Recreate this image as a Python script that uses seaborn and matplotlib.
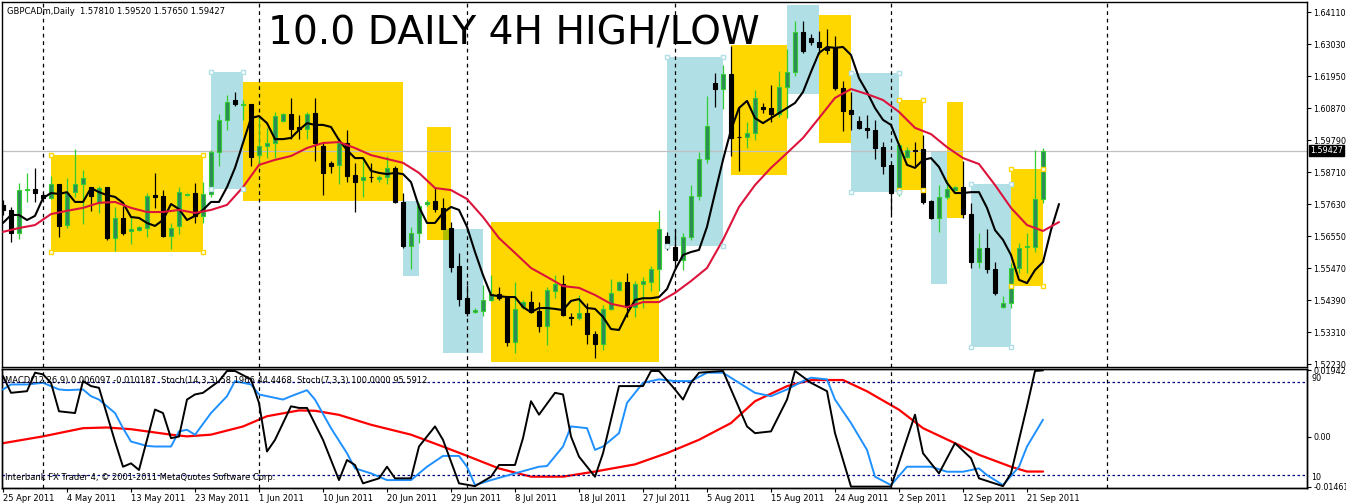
import numpy as np
import pandas as pd
import seaborn as sns
import matplotlib.pyplot as plt
import matplotlib.transforms as mtransforms
from matplotlib.patches import Rectangle

sns.set_style("white")
plt.rcParams['font.family'] = ['DejaVu Sans']

# ---------------- data ----------------
header = "GBPCADm,Daily  1.57810 1.59520 1.57650 1.59427"
title = "10.0 DAILY 4H HIGH/LOW"
indicator_label = ("MACD(12,26,9) 0.006097 -0.010187  Stoch(14,3,3) 58.1966 44.4468  "
                   "Stoch(7,3,3) 100.0000 95.5912")
copyright_label = "Interbank FX Trader 4, \u00a9 2001-2011 MetaQuotes Software Corp."

opens = [1.5760, 1.5743, 1.5665, 1.5810, 1.5813, 1.5793, 1.5783, 1.5830, 1.5692, 1.5803,
         1.5830, 1.5820, 1.5767, 1.5820, 1.5648, 1.5716, 1.5672, 1.5675, 1.5682, 1.5793,
         1.5790, 1.5655, 1.5689, 1.5793, 1.5800, 1.5723, 1.5797, 1.5938, 1.6047, 1.6114,
         1.6097, 1.6100, 1.5928, 1.5959, 1.5969, 1.6043, 1.6067, 1.6023, 1.6016, 1.6070,
         1.5959, 1.5902, 1.5895, 1.5969, 1.5861, 1.5844, 1.5854, 1.5848, 1.5854, 1.5885,
         1.5770, 1.5622, 1.5665, 1.5763, 1.5773, 1.5750, 1.5682, 1.5554, 1.5445, 1.5398,
         1.5402, 1.5439, 1.5459, 1.5452, 1.5297, 1.5415, 1.5432, 1.5402, 1.5351, 1.5470,
         1.5493, 1.5381, 1.5378, 1.5395, 1.5324, 1.5290, 1.5409, 1.5473, 1.5500, 1.5415,
         1.5493, 1.5500, 1.5544, 1.5655, 1.5618, 1.5574, 1.5651, 1.5790, 1.5915, 1.6171,
         1.6151, 1.6202, 1.5989, 1.5989, 1.6003, 1.6090, 1.6087, 1.6067, 1.6158, 1.6209,
         1.6344, 1.6323, 1.6310, 1.6290, 1.6290, 1.6155, 1.6080, 1.6043, 1.6020, 1.6013,
         1.5955, 1.5895, 1.5800, 1.5922, 1.5945, 1.5948, 1.5773, 1.5716, 1.5787, 1.5810,
         1.5820, 1.5729, 1.5567, 1.5615, 1.5544, 1.5415, 1.5429, 1.5547, 1.5618, 1.5618,
         1.5781]
highs = [1.5777, 1.5753, 1.5834, 1.5868, 1.5885, 1.5800, 1.5858, 1.5832, 1.5851, 1.5948,
         1.5878, 1.5822, 1.5824, 1.5822, 1.5753, 1.5757, 1.5723, 1.5689, 1.5800, 1.5868,
         1.5810, 1.5699, 1.5820, 1.5800, 1.5834, 1.5837, 1.5945, 1.6067, 1.6131, 1.6141,
         1.6114, 1.6102, 1.6057, 1.6020, 1.6074, 1.6070, 1.6121, 1.6063, 1.6074, 1.6121,
         1.5969, 1.5908, 1.5986, 1.6013, 1.5902, 1.5912, 1.5902, 1.5861, 1.5925, 1.5892,
         1.5800, 1.5686, 1.5767, 1.5777, 1.5817, 1.5783, 1.5702, 1.5598, 1.5490, 1.5412,
         1.5490, 1.5523, 1.5483, 1.5454, 1.5500, 1.5439, 1.5470, 1.5432, 1.5483, 1.5523,
         1.5523, 1.5395, 1.5456, 1.5429, 1.5334, 1.5422, 1.5510, 1.5503, 1.5530, 1.5503,
         1.5517, 1.5554, 1.5743, 1.5668, 1.5679, 1.5665, 1.5827, 1.5938, 1.6128, 1.6205,
         1.6232, 1.6296, 1.6090, 1.6040, 1.6148, 1.6104, 1.6165, 1.6212, 1.6286, 1.6381,
         1.6381, 1.6337, 1.6347, 1.6354, 1.6330, 1.6178, 1.6141, 1.6060, 1.6063, 1.6047,
         1.5972, 1.5895, 1.5969, 1.5955, 1.5972, 1.5996, 1.5777, 1.5827, 1.5844, 1.5824,
         1.5908, 1.5767, 1.5665, 1.5679, 1.5567, 1.5452, 1.5564, 1.5632, 1.5665, 1.5945,
         1.5952]
lows = [1.5726, 1.5635, 1.5645, 1.5770, 1.5770, 1.5780, 1.5780, 1.5651, 1.5682, 1.5787,
        1.5696, 1.5740, 1.5733, 1.5642, 1.5605, 1.5658, 1.5628, 1.5672, 1.5651, 1.5750,
        1.5653, 1.5611, 1.5662, 1.5790, 1.5699, 1.5699, 1.5787, 1.5892, 1.6013, 1.6094,
        1.6047, 1.5892, 1.5892, 1.5918, 1.5918, 1.6040, 1.5982, 1.5982, 1.5982, 1.5908,
        1.5793, 1.5868, 1.5830, 1.5837, 1.5736, 1.5787, 1.5837, 1.5837, 1.5830, 1.5768,
        1.5615, 1.5544, 1.5632, 1.5757, 1.5736, 1.5677, 1.5533, 1.5419, 1.5385, 1.5395,
        1.5385, 1.5436, 1.5439, 1.5284, 1.5260, 1.5409, 1.5395, 1.5331, 1.5287, 1.5445,
        1.5386, 1.5355, 1.5372, 1.5290, 1.5243, 1.5270, 1.5405, 1.5470, 1.5382, 1.5382,
        1.5412, 1.5470, 1.5470, 1.5608, 1.5550, 1.5540, 1.5642, 1.5777, 1.5902, 1.6090,
        1.6084, 1.5925, 1.5875, 1.5952, 1.5979, 1.6070, 1.6040, 1.6057, 1.6053, 1.6195,
        1.6273, 1.6300, 1.6269, 1.6269, 1.6148, 1.6010, 1.6013, 1.6016, 1.5986, 1.5915,
        1.5864, 1.5729, 1.5790, 1.5918, 1.5892, 1.5763, 1.5713, 1.5668, 1.5780, 1.5807,
        1.5716, 1.5547, 1.5547, 1.5530, 1.5456, 1.5412, 1.5412, 1.5530, 1.5530, 1.5601,
        1.5765]
closes = [1.5743, 1.5665, 1.5810, 1.5813, 1.5800, 1.5783, 1.5830, 1.5689, 1.5800, 1.5830,
          1.5851, 1.5790, 1.5817, 1.5648, 1.5716, 1.5665, 1.5679, 1.5686, 1.5790, 1.5787,
          1.5655, 1.5682, 1.5803, 1.5797, 1.5723, 1.5797, 1.5938, 1.6047, 1.6107, 1.6100,
          1.6100, 1.5922, 1.5959, 1.5969, 1.6060, 1.6067, 1.6016, 1.6016, 1.6067, 1.5969,
          1.5868, 1.5892, 1.5969, 1.5858, 1.5837, 1.5854, 1.5853, 1.5854, 1.5885, 1.5770,
          1.5622, 1.5665, 1.5757, 1.5770, 1.5746, 1.5679, 1.5550, 1.5442, 1.5395, 1.5405,
          1.5439, 1.5459, 1.5445, 1.5297, 1.5409, 1.5432, 1.5398, 1.5351, 1.5473, 1.5493,
          1.5388, 1.5378, 1.5395, 1.5324, 1.5290, 1.5409, 1.5463, 1.5500, 1.5415, 1.5493,
          1.5503, 1.5544, 1.5679, 1.5615, 1.5574, 1.5651, 1.5790, 1.5915, 1.6026, 1.6151,
          1.6202, 1.5986, 1.5988, 1.6003, 1.6121, 1.6084, 1.6067, 1.6158, 1.6209, 1.6344,
          1.6279, 1.6310, 1.6293, 1.6283, 1.6155, 1.6077, 1.6067, 1.6020, 1.6013, 1.5952,
          1.5892, 1.5800, 1.5962, 1.5945, 1.5942, 1.5770, 1.5716, 1.5787, 1.5813, 1.5820,
          1.5729, 1.5567, 1.5615, 1.5544, 1.5463, 1.5429, 1.5547, 1.5615, 1.5619, 1.5781,
          1.5943]

# fast moving average (black) and slow moving average (red), as drawn (shifted right)
black_ma = [1.5699, 1.5726, 1.5726, 1.5709, 1.5723, 1.5783, 1.5800, 1.5797, 1.5803, 1.5770,
            1.5770, 1.5817, 1.5803, 1.5793, 1.5787, 1.5767, 1.5719, 1.5716, 1.5699, 1.5689,
            1.5709, 1.5763, 1.5746, 1.5709, 1.5723, 1.5743, 1.5770, 1.5770, 1.5820, 1.5885,
            1.5969, 1.6053, 1.6060, 1.6036, 1.5982, 1.5982, 1.5986, 1.6013, 1.6036, 1.6030,
            1.6030, 1.6023, 1.5979, 1.5945, 1.5918, 1.5918, 1.5875, 1.5868, 1.5864, 1.5868,
            1.5864, 1.5837, 1.5753, 1.5699, 1.5699, 1.5733, 1.5753, 1.5743, 1.5686, 1.5601,
            1.5523, 1.5456, 1.5452, 1.5449, 1.5449, 1.5415, 1.5398, 1.5412, 1.5412, 1.5409,
            1.5405, 1.5436, 1.5442, 1.5412, 1.5409, 1.5382, 1.5341, 1.5338, 1.5392, 1.5439,
            1.5445, 1.5445, 1.5449, 1.5476, 1.5540, 1.5591, 1.5601, 1.5608, 1.5686, 1.5800,
            1.5912, 1.6013, 1.6087, 1.6111, 1.6053, 1.6036, 1.6053, 1.6070, 1.6087, 1.6104,
            1.6141, 1.6209, 1.6273, 1.6293, 1.6290, 1.6293, 1.6266, 1.6188, 1.6141, 1.6087,
            1.6047, 1.6030, 1.5962, 1.5895, 1.5885, 1.5912, 1.5918, 1.5888, 1.5834, 1.5800,
            1.5800, 1.5803, 1.5803, 1.5750, 1.5675, 1.5642, 1.5591, 1.5507, 1.5496, 1.5540,
            1.5567, 1.5675, 1.5763]
red_ma_bars = [0, 2, 4, 6, 8, 10, 12, 14, 16, 18, 20, 22, 24, 26, 28, 30, 32, 34, 36, 38,
               40, 42, 44, 46, 48, 50, 52, 54, 56, 58, 60, 62, 64, 66, 68, 70, 72, 74, 76, 78,
               80, 82, 84, 86, 88, 90, 92, 94, 96, 98, 100, 102, 104, 106, 108, 110, 112, 114,
               116, 118, 120, 122, 124, 126, 128, 130, 132]
red_ma = [1.5669, 1.5682, 1.5692, 1.5729, 1.5740, 1.5750, 1.5767, 1.5770, 1.5750, 1.5736,
          1.5736, 1.5743, 1.5733, 1.5743, 1.5760, 1.5820, 1.5895, 1.5912, 1.5925, 1.5952,
          1.5969, 1.5972, 1.5952, 1.5928, 1.5915, 1.5902, 1.5868, 1.5817, 1.5810, 1.5780,
          1.5719, 1.5648, 1.5598, 1.5547, 1.5517, 1.5486, 1.5480, 1.5456, 1.5426, 1.5415,
          1.5432, 1.5432, 1.5463, 1.5503, 1.5547, 1.5642, 1.5753, 1.5827, 1.5885, 1.5935,
          1.5986, 1.6053, 1.6121, 1.6151, 1.6134, 1.6114, 1.6074, 1.6020, 1.5999, 1.5955,
          1.5918, 1.5898, 1.5827, 1.5750, 1.5692, 1.5672, 1.5702]

# lower window: MACD signal (red), Stoch(14,3,3) main (blue), Stoch(7,3,3) main (black)
macd_bars = [0, 5, 10, 13, 16, 21, 23, 26, 30, 33, 37, 39, 42, 46, 51, 55, 58, 62, 66, 70,
             74, 79, 83, 87, 91, 94, 98, 101, 105, 108, 112, 115, 119, 122, 126, 128, 130]
macd_signal = [-0.0019, 0.0001, 0.0025, 0.0027, 0.0022, 0.0006, 0.0001, 0.0006, 0.0030, 0.0060,
               0.0077, 0.0076, 0.0064, 0.0035, 0.0006, -0.0029, -0.0056, -0.0093, -0.0117, -0.0117,
               -0.0102, -0.0081, -0.0048, -0.0009, 0.0040, 0.0104, 0.0148, 0.0166, 0.0166, 0.0133,
               0.0079, 0.0025, -0.0019, -0.0053, -0.0088, -0.0102, -0.0102]
stoch14_bars = [0, 1, 3, 5, 7, 8, 10, 11, 12, 14, 15, 16, 18, 19, 21, 22, 23, 24, 26, 28,
                29, 31, 32, 35, 36, 38, 39, 41, 43, 44, 46, 48, 50, 51, 53, 55, 57, 58, 59, 61,
                64, 67, 68, 70, 71, 73, 74, 75, 77, 78, 80, 82, 84, 86, 88, 90, 92, 94, 96, 98,
                100, 101, 103, 104, 106, 108, 109, 111, 113, 115, 116, 118, 120, 122, 123, 125,
                127, 128, 130]
stoch14 = [83.6, 87.9, 87.9, 89.3, 83.6, 83.0, 83.6, 77.8, 74.9, 63.3, 50.3, 38.8, 35.0, 34.5,
           34.5, 47.5, 48.9, 44.6, 63.3, 77.8, 90.8, 87.9, 79.3, 74.9, 77.8, 83.0, 74.9, 50.3,
           28.7, 15.7, 11.4, 5.6, 5.6, 5.6, 17.1, 26.4, 26.4, 17.1, 1.3, 5.6, 11.4, 17.1, 17.7,
           34.5, 51.8, 50.3, 31.6, 34.5, 46.0, 72.0, 89.3, 92.3, 90.8, 90.8, 98.0, 98.0, 89.3,
           80.7, 77.8, 83.6, 90.8, 93.7, 92.3, 74.9, 54.7, 31.6, 8.5, 1.3, 17.1, 17.1, 17.1,
           12.8, 12.8, 15.7, 9.9, 1.3, 17.1, 34.5, 57.6]
stoch7_bars = [0, 1, 3, 4, 5, 6, 7, 9, 10, 11, 12, 14, 15, 16, 17, 19, 20, 21, 22, 23, 24, 25,
               27, 28, 29, 31, 32, 33, 34, 36, 37, 38, 40, 42, 43, 44, 45, 47, 48, 49, 51, 52,
               54, 55, 57, 59, 61, 62, 64, 65, 66, 67, 69, 70, 71, 72, 74, 75, 77, 80, 81, 82,
               84, 85, 86, 87, 90, 91, 93, 94, 96, 98, 99, 101, 103, 104, 106, 111, 114, 115,
               117, 119, 121, 122, 125, 126, 128, 129, 130]
stoch7 = [95.1, 80.7, 82.1, 98.0, 96.6, 89.3, 64.8, 63.3, 90.8, 86.5, 85.0, 38.8, 17.1, 20.0,
          14.3, 66.3, 63.3, 41.7, 43.1, 74.9, 79.3, 80.7, 90.8, 99.5, 99.5, 92.3, 72.0, 30.2,
          40.2, 69.1, 67.7, 67.7, 40.2, 5.6, 22.9, 18.6, 2.8, 7.1, 17.1, 7.1, 7.1, 34.5, 51.8,
          40.2, 2.8, 0.4, 8.5, 18.6, 18.6, 41.7, 73.5, 61.9, 80.7, 79.3, 43.1, 25.8, 8.5, 28.7,
          86.5, 86.5, 99.5, 99.5, 83.6, 74.9, 89.3, 98.0, 99.5, 83.6, 51.8, 46.0, 47.5, 74.9,
          99.5, 89.3, 82.1, 46.0, 0.0, 0.0, 61.9, 28.7, 11.4, 37.4, 24.4, 7.1, 0.4, 11.4, 69.1,
          99.5, 100.0]

# rectangles drawn on the chart: (first bar, last bar, low price, high price)
yellow_boxes = [(6, 25, 1.5601, 1.5928), (30, 50, 1.5773, 1.6175), (53, 56, 1.5642, 1.6023),
                (61, 82, 1.5230, 1.5702), (91, 98, 1.5861, 1.6300), (102, 106, 1.5969, 1.6401),
                (112, 115, 1.5810, 1.6114), (118, 120, 1.5716, 1.6107), (126, 130, 1.5486, 1.5881)]
blue_boxes = [(26, 30, 1.5814, 1.6209), (50, 52, 1.5520, 1.5773), (55, 60, 1.5260, 1.5679),
              (83, 90, 1.5622, 1.6259), (98, 102, 1.6134, 1.6435), (106, 112, 1.5803, 1.6205),
              (116, 118, 1.5493, 1.5938), (121, 126, 1.5280, 1.5830)]
yellow_selected = [0, 6, 8]
blue_selected = [0, 3, 5, 7]

price_ticks = [1.64110, 1.63030, 1.61950, 1.60870, 1.59790, 1.58710, 1.57630,
               1.56550, 1.55470, 1.54390, 1.53310, 1.52230]
last_price = 1.59427
macd_ticks = [0.01942, 0.00, -0.01461]
macd_tick_labels = ["0.01942", "0.00", "-0.01461"]
stoch_levels = [90, 10]

date_bars = [0, 8, 16, 24, 32, 40, 48, 56, 64, 72, 80, 88, 96, 104, 112, 120, 128]
date_labels = ["25 Apr 2011", "4 May 2011", "13 May 2011", "23 May 2011", "1 Jun 2011",
               "10 Jun 2011", "20 Jun 2011", "29 Jun 2011", "8 Jul 2011", "18 Jul 2011",
               "27 Jul 2011", "5 Aug 2011", "15 Aug 2011", "24 Aug 2011", "2 Sep 2011",
               "12 Sep 2011", "21 Sep 2011"]
separator_bars = [5, 32, 58, 84, 111, 138]

# ---------------- figure ----------------
W, H = 1346, 503
fig = plt.figure(figsize=(W / 100, H / 100), dpi=100)


def px_axes(x0, y0, x1, y1):
    return fig.add_axes([x0 / W, 1 - y1 / H, (x1 - x0) / W, (y1 - y0) / H])


ax = px_axes(2, 2, 1307, 367)
axl = px_axes(2, 369, 1307, 488)
xlim = (-0.125, 163.0)

YELLOW = "#FFD700"
BLUE = "#B0E0E6"
OVERLAP = "#B0C000"
BULL_FILL = "#2E8B57"
BULL_EDGE = "#32CD32"
LABEL_SIZE = 5.8

# rectangles
for x0, x1, lo, hi in yellow_boxes:
    ax.add_patch(Rectangle((x0, lo), x1 - x0, hi - lo, facecolor=YELLOW, edgecolor="none", zorder=1))
for x0, x1, lo, hi in blue_boxes:
    ax.add_patch(Rectangle((x0, lo), x1 - x0, hi - lo, facecolor=BLUE, edgecolor="none", zorder=1))
for yx0, yx1, ylo, yhi in yellow_boxes:
    for bx0, bx1, blo, bhi in blue_boxes:
        ox0, ox1 = max(yx0, bx0), min(yx1, bx1)
        olo, ohi = max(ylo, blo), min(yhi, bhi)
        if ox1 > ox0 and ohi > olo:
            ax.add_patch(Rectangle((ox0, olo), ox1 - ox0, ohi - olo,
                                   facecolor=OVERLAP, edgecolor="none", zorder=1.5))

# candles
df = pd.DataFrame({"open": opens, "high": highs, "low": lows, "close": closes})
df["bar"] = np.arange(len(df))
bull = df["close"] >= df["open"]
body_lo = df[["open", "close"]].min(axis=1)
body_h = (df["close"] - df["open"]).abs().clip(lower=0.00025)

ax.vlines(df.loc[bull, "bar"], df.loc[bull, "low"], df.loc[bull, "high"],
          color=BULL_EDGE, linewidth=0.9, zorder=2)
ax.vlines(df.loc[~bull, "bar"], df.loc[~bull, "low"], df.loc[~bull, "high"],
          color="black", linewidth=0.9, zorder=2)
ax.bar(df.loc[bull, "bar"], body_h[bull], bottom=body_lo[bull], width=0.55,
       color=BULL_FILL, edgecolor=BULL_EDGE, linewidth=0.8, zorder=3)
ax.bar(df.loc[~bull, "bar"], body_h[~bull], bottom=body_lo[~bull], width=0.55,
       color="black", edgecolor="black", linewidth=0.8, zorder=3)

# moving averages
sns.lineplot(x=list(range(len(black_ma))), y=black_ma, ax=ax, color="black",
             linewidth=1.5, estimator=None, sort=False, zorder=4)
sns.lineplot(x=red_ma_bars, y=red_ma, ax=ax, color="#DC143C",
             linewidth=1.5, estimator=None, sort=False, zorder=4)

# selection handles on some boxes
for idx in yellow_selected:
    x0, x1, lo, hi = yellow_boxes[idx]
    ax.plot([x0, x1, x0, x1], [lo, lo, hi, hi], ls="none", marker="s", ms=3.5,
            mfc="white", mec=YELLOW, mew=1, zorder=5)
for idx in blue_selected:
    x0, x1, lo, hi = blue_boxes[idx]
    ax.plot([x0, x1, x0, x1], [lo, lo, hi, hi], ls="none", marker="s", ms=3.5,
            mfc="white", mec=BLUE, mew=1, zorder=5)

ax.axhline(last_price, color="#C0C0C0", linewidth=0.9, zorder=1.8)
for b in separator_bars:
    ax.axvline(b, color="black", linestyle=(0, (3, 3)), linewidth=0.9, zorder=1.8)
    axl.axvline(b, color="black", linestyle=(0, (3, 3)), linewidth=0.9, zorder=1)

ax.set_xlim(*xlim)
ax.set_ylim(1.52129, 1.64448)
ax.set_xticks([])
ax.yaxis.tick_right()
ax.set_yticks(price_ticks)
ax.set_yticklabels([f"{v:.5f}" for v in price_ticks])
ax.tick_params(axis="y", direction="out", length=3, width=0.8, labelsize=LABEL_SIZE, pad=1.5,
               colors="black", right=True, left=False)
for s in ax.spines.values():
    s.set_color("black")
    s.set_linewidth(1.0)

trans = mtransforms.blended_transform_factory(ax.transAxes, ax.transData)
ax.text(1.0 + 3 / 1305, last_price, f"{last_price:.5f}", transform=trans, ha="left",
        va="center", color="white", fontsize=LABEL_SIZE,
        bbox=dict(boxstyle="square,pad=0.12", fc="black", ec="black"), zorder=6)

# ---------------- lower window ----------------
axm = axl.twinx()
axl.set_zorder(axm.get_zorder() + 1)
axl.patch.set_visible(False)

sns.lineplot(x=macd_bars, y=macd_signal, ax=axm, color="red", linewidth=1.6,
             estimator=None, sort=False)
sns.lineplot(x=stoch14_bars, y=stoch14, ax=axl, color="#1E90FF", linewidth=1.4,
             estimator=None, sort=False, zorder=3)
sns.lineplot(x=stoch7_bars, y=stoch7, ax=axl, color="black", linewidth=1.4,
             estimator=None, sort=False, zorder=4)
for lv in stoch_levels:
    axl.axhline(lv, color="#000080", linestyle=(0, (2, 2)), linewidth=0.9, zorder=2)

axl.set_xlim(*xlim)
axl.set_ylim(-1.2, 101.2)
axm.set_ylim(-0.01502, 0.01983)
axl.set_yticks([])
axm.set_yticks(macd_ticks)
axm.set_yticklabels(macd_tick_labels)
axm.tick_params(axis="y", direction="out", length=3, width=0.8, labelsize=LABEL_SIZE, pad=1.5,
                colors="black")
axm.set_ylabel("")
axl.set_ylabel("")

axl.set_xticks(date_bars)
axl.set_xticklabels(date_labels, ha="left")
axl.tick_params(axis="x", direction="out", length=3, width=0.8, labelsize=6, pad=1,
                colors="black", bottom=True)
for a in (axl, axm):
    for s in a.spines.values():
        s.set_color("black")
        s.set_linewidth(1.0)

ltrans = mtransforms.blended_transform_factory(axl.transAxes, axl.transData)
for lv in stoch_levels:
    axl.text(1.0 + 4 / 1305, lv + (3 if lv > 50 else -2), str(lv), transform=ltrans,
             ha="left", va="center", fontsize=LABEL_SIZE, color="black")

# ---------------- texts ----------------
fig.text(7 / W, 1 - 11 / H, header, fontsize=6, va="center", ha="left", color="black")
fig.text(268 / W, 1 - 45 / H, title, fontsize=28.2, va="baseline", ha="left", color="black")
fig.text(5 / W, 1 - 380 / H, indicator_label, fontsize=6, va="center", ha="left", color="black")
fig.text(5 / W, 1 - 477 / H, copyright_label, fontsize=6, va="center", ha="left", color="black")

fig.savefig("out.png", dpi=100)
